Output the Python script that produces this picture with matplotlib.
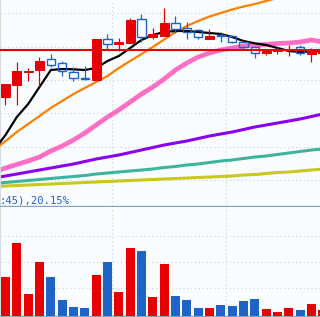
import numpy as np
import matplotlib.pyplot as plt

# candle data (price)
opens = [11.245, 11.425, 11.625, 11.65, 11.815, 11.755, 11.62, 11.5375, 11.50, 12.115,
         12.04, 12.055, 12.415, 12.145, 12.16, 12.355, 12.28, 12.25, 12.115, 12.175,
         12.16, 12.07, 11.995, 11.905, 11.935, 11.945, 11.995, 11.89, 11.905]
highs = [11.44, 11.77, 11.68, 11.845, 11.89, 11.785, 11.695, 11.71, 12.115, 12.19,
         12.13, 12.43, 12.49, 12.28, 12.58, 12.46, 12.37, 12.265, 12.265, 12.22,
         12.175, 12.085, 11.995, 11.965, 11.995, 12.025, 12.025, 11.98, 11.96]
lows = [11.125, 11.125, 11.485, 11.41, 11.695, 11.56, 11.485, 11.50, 11.50, 11.965,
        11.935, 12.055, 12.07, 12.115, 12.16, 12.205, 12.115, 12.115, 12.115, 12.07,
        12.055, 11.95, 11.83, 11.875, 11.89, 11.86, 11.875, 11.77, 11.88]
closes = [11.44, 11.635, 11.635, 11.785, 11.725, 11.635, 11.53, 11.5225, 12.115, 12.04,
          12.07, 12.40, 12.145, 12.19, 12.355, 12.265, 12.22, 12.145, 12.16, 12.16,
          12.07, 11.995, 11.905, 11.935, 11.965, 11.955, 11.905, 11.965, 11.95]
volumes = [3900, 7300, 2200, 5400, 3900, 1600, 900, 800, 4100, 5400,
           2400, 6800, 6500, 1900, 5200, 2000, 1600, 800, 800, 1100,
           1000, 1500, 1700, 700, 400, 800, 600, 1200, 600]

# moving averages, starting one bar before the first candle
ma5 = [10.45, 10.675, 10.945, 11.14, 11.395, 11.65, 11.665, 11.66, 11.65, 11.68,
       11.785, 11.86, 11.98, 12.10, 12.175, 12.22, 12.235, 12.235, 12.22, 12.205,
       12.19, 12.145, 12.085, 12.05, 12.025, 11.98, 11.935, 11.92, 11.93, 11.935]
ma10 = [10.45, 10.585, 10.72, 10.84, 10.96, 11.08, 11.185, 11.29, 11.38, 11.47,
        11.56, 11.68, 11.785, 11.89, 11.995, 12.1075, 12.22, 12.31, 12.385, 12.4525,
        12.505, 12.5575, 12.6025, 12.64, 12.685, 12.73, 12.7675, 12.805, 12.835, 12.865]
ma20 = [10.12, 10.18, 10.2325, 10.285, 10.345, 10.435, 10.51, 10.60, 10.705, 10.825,
        10.945, 11.05, 11.17, 11.29, 11.395, 11.515, 11.65, 11.755, 11.845, 11.905,
        11.95, 11.98, 12.01, 12.025, 12.0325, 12.0475, 12.055, 12.07, 12.10, 12.07]
ma60 = [10.03, 10.06, 10.09, 10.12, 10.15, 10.18, 10.21, 10.24, 10.2775, 10.315,
        10.345, 10.375, 10.4125, 10.45, 10.4875, 10.525, 10.555, 10.585, 10.6225, 10.66,
        10.69, 10.72, 10.7575, 10.795, 10.825, 10.855, 10.885, 10.915, 10.9525, 10.99]
ma120 = [9.9475, 9.9625, 9.9775, 9.9925, 10.0075, 10.0225, 10.0375, 10.0525, 10.0675, 10.09,
         10.105, 10.12, 10.135, 10.15, 10.165, 10.1875, 10.2025, 10.225, 10.24, 10.2625,
         10.285, 10.30, 10.3225, 10.345, 10.36, 10.3825, 10.405, 10.4275, 10.45, 10.465]
ma250 = [9.9025, 9.91, 9.9175, 9.925, 9.9325, 9.94, 9.9475, 9.955, 9.9625, 9.97,
         9.9775, 9.985, 9.9925, 10.0, 10.0075, 10.015, 10.0225, 10.03, 10.0375, 10.045,
         10.0525, 10.06, 10.075, 10.0825, 10.0975, 10.1125, 10.12, 10.135, 10.15, 10.165]
ref_price = 11.95
label_text = ":45),20.15%"

RED = '#e60000'
BLUE = '#1e64c8'
BG = '#fafdff'
GRID = '#c8d0d4'

fig = plt.figure(figsize=(3.2, 3.17), dpi=100, facecolor=BG)
ax = fig.add_axes([0, 111 / 317, 1, 206 / 317], facecolor=BG)
axv = fig.add_axes([0, 1 / 317, 1, 109 / 317], facecolor=BG)

x = np.arange(len(opens))
xm = np.arange(-1, len(opens))
xlim = (-0.485, 27.75)
w = 0.794

for a in (ax, axv):
    a.set_xlim(*xlim)
    a.set_xticks([])
    a.set_yticks([])
    for s in ('top', 'right'):
        a.spines[s].set_visible(False)
    a.spines['left'].set_color('#d4dce2')
    a.spines['left'].set_linewidth(0.8)
    a.spines['bottom'].set_color('#86a4c4')
    a.spines['bottom'].set_linewidth(1.0)
    for gx in (9.43, 19.43):
        a.axvline(gx, color=GRID, lw=0.8, ls=(0, (1, 2.5)), zorder=0)

# price panel
ax.set_ylim(12.70 - 0.015 * 206, 12.70)
for gy in (10.0, 10.5, 11.0, 11.5, 12.0, 12.5):
    ax.axhline(gy, color=GRID, lw=0.8, ls=(0, (1, 2.5)), zorder=0)

ax.plot(xm, ma250, color='#c8c81e', lw=2.2, zorder=2)
ax.plot(xm, ma120, color='#3cb4a0', lw=2.2, zorder=2)
ax.plot(xm, ma60, color='#8c00f0', lw=2.2, zorder=2)
ax.plot(xm, ma20, color='#ff6ec4', lw=3.4, zorder=2)
ax.plot(xm, ma10, color='#ff8000', lw=1.6, zorder=3)
ax.plot(xm, ma5, color='black', lw=1.6, zorder=4)

for i in range(len(opens)):
    o, h, l, c = opens[i], highs[i], lows[i], closes[i]
    if c >= o:
        ax.vlines(x[i], l, h, color=RED, lw=0.9, zorder=5)
        ax.bar(x[i], c - o, bottom=o, width=w, color=RED, edgecolor=RED,
               lw=0.7, zorder=6)
    else:
        ax.vlines(x[i], o, h, color=BLUE, lw=0.9, zorder=5)
        ax.vlines(x[i], l, c, color=BLUE, lw=0.9, zorder=5)
        ax.bar(x[i], o - c, bottom=c, width=w - 0.08, facecolor='none',
               edgecolor=BLUE, lw=1.0, zorder=6)

ax.axhline(ref_price, color=RED, lw=1.5, zorder=7)

fig.text(0.0, (317 - 203.5) / 317, label_text, color='#2060c0', fontsize=7.6,
         family='DejaVu Sans Mono', ha='left', va='baseline')

# volume panel
axv.set_ylim(0, 10900)
for gy in (2800, 5400, 8000):
    axv.axhline(gy, color=GRID, lw=0.8, ls=(0, (1, 2.5)), zorder=0)
vcolors = [RED if closes[i] >= opens[i] else BLUE for i in range(len(opens))]
axv.bar(x, volumes, width=w, color=vcolors, zorder=3)

fig.savefig('out.png', dpi=100, facecolor=BG)
